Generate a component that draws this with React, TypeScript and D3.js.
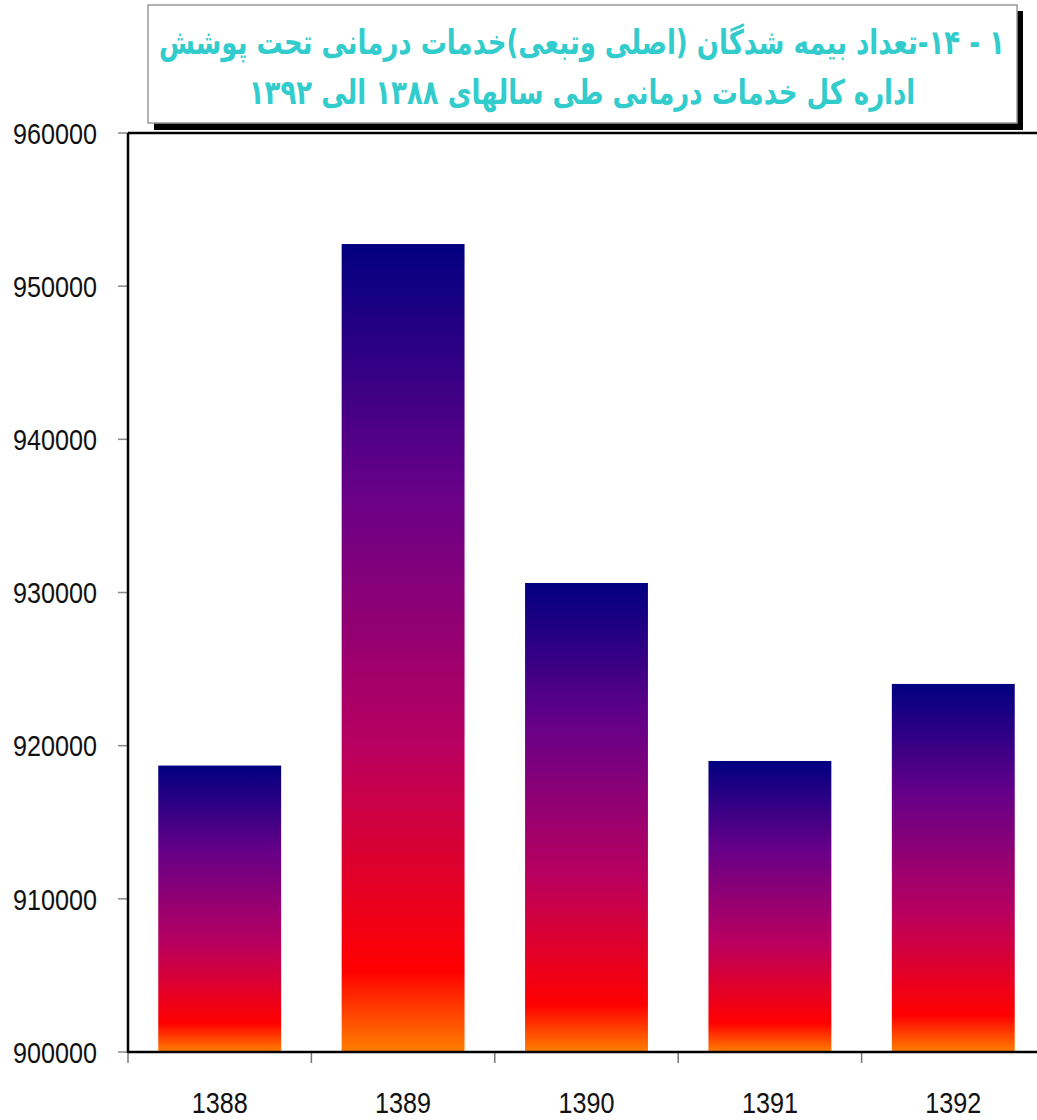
import React from "react";
import * as d3 from "d3";

const years = ["1388", "1389", "1390", "1391", "1392"];
const insured = [918700, 952750, 930620, 919000, 924030];
const yTicks = [900000, 910000, 920000, 930000, 940000, 950000, 960000];
const titleLines = [
  "۱ - ۱۴-تعداد بیمه شدگان (اصلی وتبعی)خدمات درمانی تحت پوشش",
  "اداره کل خدمات درمانی طی سالهای ۱۳۸۸ الی ۱۳۹۲",
];
const gradientStops = [
  { offset: 0, color: "#000080" },
  { offset: 0.3, color: "#660088" },
  { offset: 0.62, color: "#b80060" },
  { offset: 0.9, color: "#ff0000" },
  { offset: 1, color: "#ff8000" },
];

const W = 1037;
const H = 1120;
const left = 128;
const right = 1045;
const top = 133;
const bottom = 1052;

export default function App() {
  const x = d3
    .scaleBand<string>()
    .domain(years)
    .range([left, right])
    .paddingInner(0.33)
    .paddingOuter(0.165);
  const y = d3.scaleLinear().domain([900000, 960000]).range([bottom, top]);
  const step = x.step();
  const axisFont = "'Liberation Sans', Arial, sans-serif";

  return (
    <svg
      width={W}
      height={H}
      style={{ position: "absolute", left: 0, top: 0, background: "#fff" }}
    >
      <defs>
        <linearGradient id="barGrad" x1="0" y1="0" x2="0" y2="1">
          {gradientStops.map((s) => (
            <stop key={s.offset} offset={s.offset} stopColor={s.color} />
          ))}
        </linearGradient>
      </defs>

      {/* bars */}
      {years.map((yr, i) => (
        <rect
          key={yr}
          x={x(yr)!}
          y={y(insured[i])}
          width={x.bandwidth()}
          height={bottom - y(insured[i])}
          fill="url(#barGrad)"
        />
      ))}

      {/* y ticks */}
      {yTicks.map((t) => {
        const label = String(t);
        const len = label.length * 14;
        return (
          <g key={t}>
            <line x1={118} x2={left} y1={y(t)} y2={y(t)} stroke="#888" strokeWidth={1.5} />
            <text
              x={97 - len}
              y={y(t)}
              dy="0.36em"
              textLength={len}
              lengthAdjust="spacingAndGlyphs"
              fontFamily={axisFont}
              fontSize={30}
              fill="#111"
            >
              {label}
            </text>
          </g>
        );
      })}

      {/* x ticks */}
      {d3.range(years.length + 1).map((i) => (
        <line
          key={i}
          x1={left + i * step}
          x2={left + i * step}
          y1={bottom}
          y2={bottom + 11}
          stroke="#777"
          strokeWidth={1.5}
        />
      ))}
      {years.map((yr) => {
        const len = yr.length * 14;
        return (
          <text
            key={yr}
            x={x(yr)! + x.bandwidth() / 2 - len / 2}
            y={1113}
            textLength={len}
            lengthAdjust="spacingAndGlyphs"
            fontFamily={axisFont}
            fontSize={30}
            fill="#111"
          >
            {yr}
          </text>
        );
      })}

      {/* frame lines */}
      <line x1={left} x2={W} y1={top} y2={top} stroke="#000" strokeWidth={2.5} />
      <line x1={left} x2={left} y1={top} y2={bottom + 1} stroke="#000" strokeWidth={2.5} />
      <line x1={left} x2={W} y1={bottom} y2={bottom} stroke="#000" strokeWidth={2.5} />

      {/* title box */}
      <rect x={154} y={11} width={869} height={119} fill="#000" />
      <rect x={148} y={5} width={869} height={118} fill="#fff" stroke="#999" strokeWidth={1.5} />
      {titleLines.map((line, i) => {
        const by = 54 + i * 50;
        return (
          <g key={i} transform={`translate(582,${by}) scale(1,1.3)`}>
            <text
              x={0}
              y={0}
              textAnchor="middle"
              direction="rtl"
              fontFamily="'DejaVu Sans', sans-serif"
              fontWeight="bold"
              fontSize={26}
              fill="#33cccc"
            >
              {line}
            </text>
          </g>
        );
      })}
    </svg>
  );
}
